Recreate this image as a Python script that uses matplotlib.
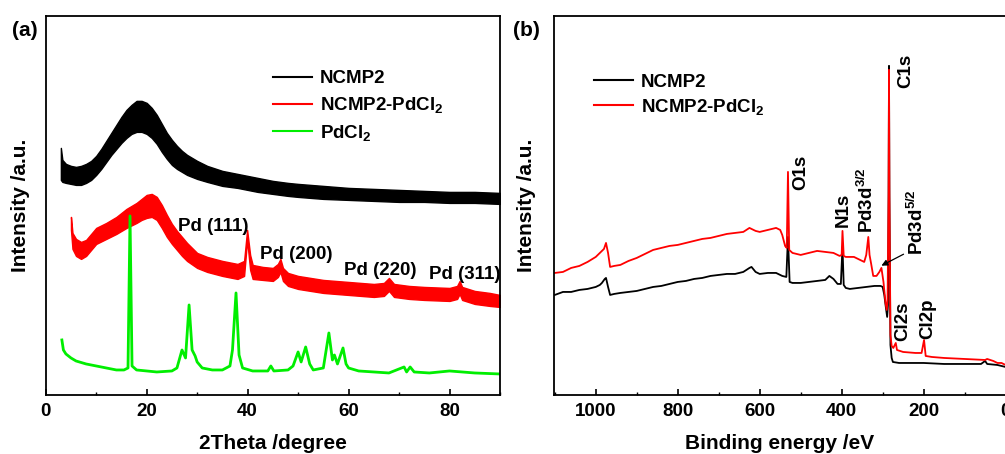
import matplotlib
matplotlib.use("Agg")
import matplotlib.pyplot as plt
from matplotlib.ticker import MultipleLocator
from matplotlib.lines import Line2D

plt.rcParams['font.family'] = ['Liberation Sans', 'DejaVu Sans']
plt.rcParams['font.weight'] = 'bold'
plt.rcParams['axes.labelweight'] = 'bold'
plt.rcParams['mathtext.fontset'] = 'custom'
plt.rcParams['mathtext.rm'] = 'Liberation Sans'
plt.rcParams['mathtext.default'] = 'regular'

# ---- panel (a): XRD (height above axis bottom, px) ----
# the two amorphous patterns are very noisy: keep the upper / lower edge of the noise band
xrd_ncmp2_x = [3.0, 3.3, 4, 5, 6, 7, 8, 9, 10, 11, 12, 13, 14, 15, 16, 17, 18, 19, 20, 21, 22, 23, 24,
               25, 26, 27, 28, 30, 32, 35, 38, 40, 42, 45, 48, 50, 55, 60, 65, 70, 75, 80, 85, 90]
xrd_ncmp2_hi = [247, 235, 231, 229, 228, 229, 231, 234, 239, 246, 254, 262, 270, 278, 285, 290, 294,
                294, 292, 287, 280, 271, 262, 255, 249, 244, 240, 234, 229, 224, 221, 219, 217, 214,
                212, 211, 209, 207, 206, 205, 204, 203, 203, 202]
xrd_ncmp2_lo = [215, 213, 212, 211, 210, 210, 212, 215, 220, 226, 233, 240, 246, 252, 257, 261, 263,
                263, 261, 257, 251, 243, 236, 230, 226, 223, 220, 216, 213, 209, 207, 205, 203, 201,
                199, 198, 196, 195, 194, 193, 193, 192, 192, 191]

xrd_pd_x = [5.0, 5.3, 6, 7, 8, 9, 10, 12, 14, 16, 18, 19, 20, 21, 22, 23, 24, 25, 26, 27, 28, 30, 32,
            35, 38, 39.3, 39.9, 40.5, 41, 43, 45, 46, 46.5, 47, 48, 50, 55, 60, 65, 67, 68, 69, 72,
            75, 80, 81.5, 82, 82.5, 85, 88, 90]
xrd_pd_hi = [178, 162, 156, 153, 155, 161, 167, 172, 178, 186, 192, 196, 200, 201, 198, 190, 180, 171,
             164, 158, 152, 142, 138, 134, 131, 134, 165, 140, 130, 128, 127, 131, 136, 127, 122, 119,
             115, 113, 111, 112, 117, 111, 109, 108, 107, 109, 114, 108, 104, 102, 100]
xrd_pd_lo = [165, 146, 139, 136, 139, 145, 151, 156, 161, 167, 172, 175, 177, 178, 175, 167, 158, 151,
             145, 139, 134, 127, 123, 119, 116, 119, 155, 125, 116, 115, 114, 118, 123, 114, 109, 106,
             102, 100, 98, 99, 104, 98, 96, 95, 94, 96, 101, 95, 91, 89, 88]

xrd_pdcl2_x = [3.2, 3.5, 4, 5, 6, 8, 10, 12, 14, 15.5, 16.3, 16.7, 17.1, 18, 20, 22, 25, 26, 27, 27.7,
               28.4, 29, 29.6, 30, 31, 33, 35, 36.5, 37.0, 37.7, 38.3, 39, 41, 44, 44.6, 45.2, 48, 49,
               50, 50.6, 51.5, 52.3, 53, 55, 56.1, 56.8, 57.2, 57.8, 58.9, 59.5, 60, 62, 65, 68, 71,
               71.5, 72.2, 73, 76, 80, 85, 90]
xrd_pdcl2_y = [55, 45, 41, 37, 34, 31, 29, 27, 25, 25, 27, 179, 29, 25, 24, 23, 24, 27, 45, 37, 90, 45,
               39, 33, 27, 25, 25, 29, 45, 102, 40, 27, 24, 24, 29, 24, 25, 29, 43, 33, 48, 31, 25, 27,
               62, 35, 40, 31, 47, 31, 27, 24, 23, 22, 28, 23, 28, 23, 22, 24, 22, 21]

# ---- panel (b): XPS survey ----
xps_ncmp2_x = [1100, 1080, 1060, 1040, 1020, 1000, 990, 985, 978, 975, 970, 965, 955, 940, 920, 900,
               880, 860, 840, 820, 800, 780, 760, 740, 720, 700, 680, 660, 640, 625, 620, 610, 600,
               580, 560, 545, 535, 531, 527, 520, 500, 480, 460, 440, 430, 420, 410, 402, 398, 395,
               390, 380, 360, 340, 320, 305, 300, 296, 292, 289, 287, 285.5, 284.5, 283.5, 281, 278,
               275, 260, 200, 150, 100, 60, 50, 45, 20, 10, 0]
xps_ncmp2_y = [100, 103, 103, 105, 106, 108, 110, 112, 116, 117, 108, 100, 101, 102, 103, 104, 106,
               108, 109, 111, 113, 114, 116, 117, 119, 120, 121, 121, 123, 127, 128, 123, 121, 122,
               122, 119, 118, 158, 113, 112, 112, 113, 114, 115, 119, 116, 111, 111, 148, 110, 107,
               106, 107, 108, 109, 109, 108, 100, 87, 78, 90, 200, 329, 200, 50, 37, 33, 32, 32, 31,
               31, 31, 34, 31, 30, 29, 28]

xps_pd_x = [1100, 1080, 1060, 1040, 1020, 1000, 990, 980, 975, 970, 965, 955, 940, 920, 900, 880, 860,
            840, 820, 800, 780, 760, 740, 720, 700, 680, 660, 640, 625, 610, 600, 580, 560, 550, 545,
            538, 534, 531, 528, 520, 500, 480, 460, 440, 420, 405, 400, 398, 395, 390, 370, 355, 345,
            340, 335, 332, 328, 323, 315, 308, 303, 298, 293, 290, 288, 285.5, 284.5, 283.5, 281, 278,
            274, 268, 265, 250, 220, 205, 199, 195, 180, 150, 100, 50, 45, 30, 20, 10, 0]
xps_pd_y = [122, 123, 127, 129, 133, 138, 142, 146, 152, 142, 128, 129, 130, 134, 137, 141, 145, 147,
            149, 150, 152, 154, 156, 157, 159, 161, 162, 163, 167, 164, 163, 165, 167, 165, 160, 149,
            147, 223, 145, 142, 140, 142, 144, 143, 142, 139, 140, 164, 139, 138, 138, 135, 133, 140,
            158, 140, 131, 119, 119, 123, 127, 113, 92, 85, 95, 200, 325, 200, 60, 49, 47, 52, 45,
            43, 42, 42, 55, 39, 38, 37, 36, 35, 36, 34, 32, 32, 30]

fig = plt.figure(figsize=(10.05, 4.54), dpi=100)
ax1 = fig.add_axes([0.0455, 0.130, 0.452, 0.834])
ax2 = fig.add_axes([0.5512, 0.130, 0.4494, 0.834])

# panel a
ax1.fill_between(xrd_ncmp2_x, xrd_ncmp2_lo, xrd_ncmp2_hi, color='black', lw=1)
ax1.fill_between(xrd_pd_x, xrd_pd_lo, xrd_pd_hi, color='red', lw=1)
ax1.plot(xrd_pdcl2_x, xrd_pdcl2_y, color='#00ee00', lw=2, solid_joinstyle='round')
ax1.set_xlim(0, 90)
ax1.set_ylim(0, 378.5)
ax1.xaxis.set_major_locator(MultipleLocator(20))
ax1.xaxis.set_minor_locator(MultipleLocator(10))
ax1.set_yticks([])
ax1.set_xlabel('2Theta /degree', fontsize=15, labelpad=10)
ax1.set_ylabel('Intensity /a.u.', fontsize=15, labelpad=11)

pd_labels = ['Pd (111)', 'Pd (200)', 'Pd (220)', 'Pd (311)']
pd_label_x = [26.2, 42.4, 59.0, 75.9]
pd_label_y = [168, 140, 124, 120]
for t, x, y in zip(pd_labels, pd_label_x, pd_label_y):
    ax1.text(x, y, t, fontsize=13.5, fontweight='bold', ha='left', va='center')

handles_a = [Line2D([], [], color='black', lw=1.5),
             Line2D([], [], color='red', lw=1.5),
             Line2D([], [], color='#00ee00', lw=1.5)]
ax1.legend(handles_a, ['NCMP2', 'NCMP2-PdCl$_2$', 'PdCl$_2$'], loc='upper left',
           bbox_to_anchor=(0.5, 0.858), frameon=False, fontsize=13.5, handlelength=2.1,
           handletextpad=0.4, borderpad=0, borderaxespad=0, labelspacing=0.42)

# panel b
ax2.plot(xps_ncmp2_x, xps_ncmp2_y, color='black', lw=1.3)
ax2.plot(xps_pd_x, xps_pd_y, color='red', lw=1.3)
ax2.set_xlim(1102, 0)
ax2.set_ylim(0, 378.5)
ax2.xaxis.set_major_locator(MultipleLocator(200))
ax2.xaxis.set_minor_locator(MultipleLocator(100))
ax2.set_yticks([])
ax2.set_xlabel('Binding energy /eV', fontsize=15, labelpad=10)
ax2.set_ylabel('Intensity /a.u.', fontsize=15, labelpad=13)

peak_labels = ['O1s', 'N1s', 'Pd3d$^{3/2}$', 'C1s', 'Pd3d$^{5/2}$', 'Cl2s', 'Cl2p']
peak_label_x = [499, 396, 339, 244, 217, 252, 189]
peak_label_y = [205, 168, 162, 307, 140, 54, 56]
for t, x, y in zip(peak_labels, peak_label_x, peak_label_y):
    ax2.text(x, y, t, fontsize=13.5, fontweight='bold', rotation=90, ha='center', va='bottom')
ax2.annotate('', xy=(309, 128), xytext=(243, 142),
             arrowprops=dict(arrowstyle='-|>', color='black', lw=0.9, mutation_scale=9))

handles_b = [Line2D([], [], color='black', lw=1.5),
             Line2D([], [], color='red', lw=1.5)]
ax2.legend(handles_b, ['NCMP2', 'NCMP2-PdCl$_2$'], loc='upper left',
           bbox_to_anchor=(0.088, 0.848), frameon=False, fontsize=13.5, handlelength=2.1,
           handletextpad=0.4, borderpad=0, borderaxespad=0, labelspacing=0.3)

for ax in (ax1, ax2):
    for s in ax.spines.values():
        s.set_linewidth(1.3)
    ax.tick_params(axis='x', which='major', direction='in', length=4, width=1.2,
                   labelsize=13.5, pad=6)
    ax.tick_params(axis='x', which='minor', direction='in', length=2.5, width=1.0)
    for lab in ax.get_xticklabels():
        lab.set_fontweight('bold')

fig.text(12 / 1005, 1 - 31 / 454, '(a)', fontsize=15, fontweight='bold', ha='left', va='center')
fig.text(513 / 1005, 1 - 31 / 454, '(b)', fontsize=15, fontweight='bold', ha='left', va='center')

fig.savefig('out.png', dpi=100)
